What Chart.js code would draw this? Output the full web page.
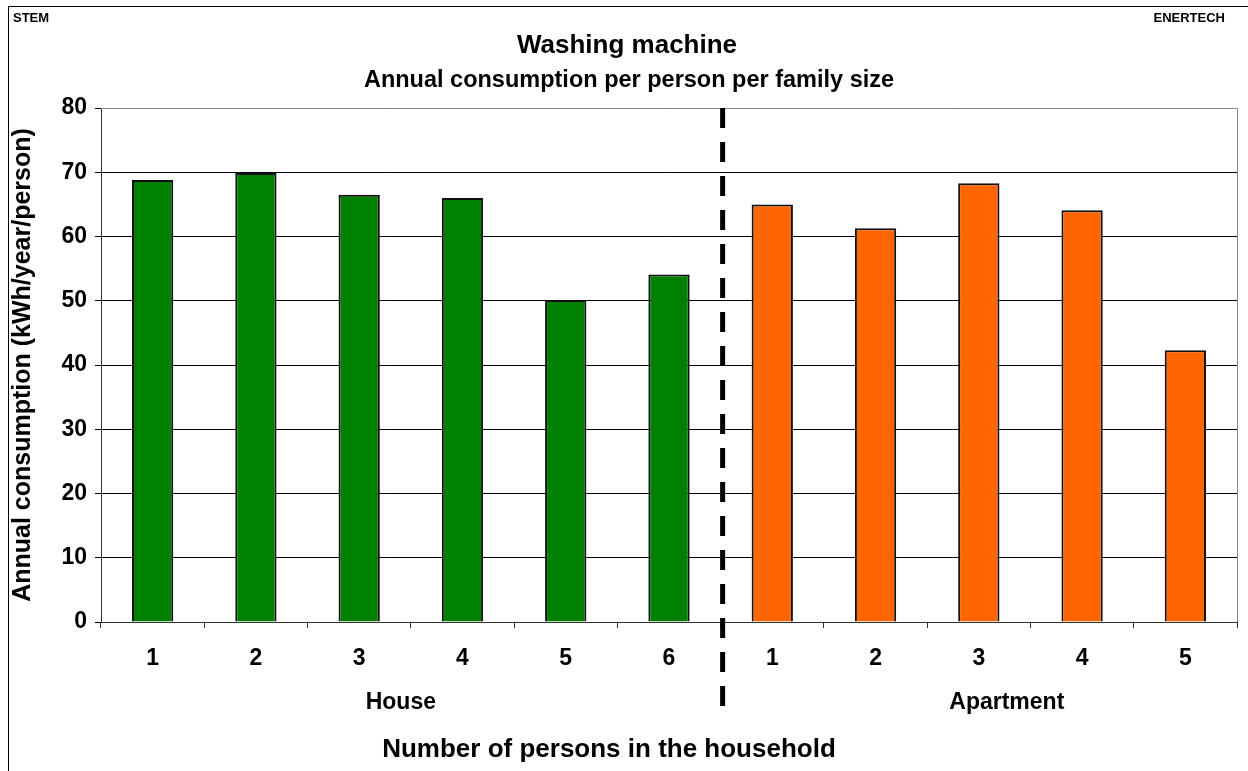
<!DOCTYPE html>
<html>
<head>
<meta charset="utf-8">
<script src="https://cdn.jsdelivr.net/npm/chart.js@4.4.1/dist/chart.umd.min.js"></script>
<style>
  html, body { margin: 0; padding: 0; background: #fff; }
  canvas { display: block; }
</style>
</head>
<body>
<canvas id="washChart" width="1248" height="771"></canvas>
<script>
// data
const houseSizes = ['1', '2', '3', '4', '5', '6'];
const houseValues = [68.8, 69.9, 66.5, 66.0, 50.1, 54.1];
const apartmentSizes = ['1', '2', '3', '4', '5'];
const apartmentValues = [65.0, 61.3, 68.3, 64.1, 42.3];
const yTicks = [0, 10, 20, 30, 40, 50, 60, 70, 80];

const labels = houseSizes.concat(apartmentSizes);
const values = houseValues.concat(apartmentValues);
const colors = houseSizes.map(() => '#008000').concat(apartmentSizes.map(() => '#FF6600'));

const FONT = '"Liberation Sans", Arial, sans-serif';

// titles, frame, separator and group labels
const extras = {
  id: 'extras',
  beforeDraw(chart) {
    const c = chart.ctx;
    c.save();
    c.fillStyle = '#fff';
    c.fillRect(0, 0, chart.width, chart.height);
    c.restore();
  },
  afterDraw(chart) {
    const c = chart.ctx;
    const area = chart.chartArea;
    const x = chart.scales.x;
    c.save();
    // outer frame
    c.strokeStyle = '#000';
    c.lineWidth = 1;
    c.strokeRect(8.5, 6.5, 1400, 1000);
    // plot border top/right
    c.strokeStyle = '#888';
    c.beginPath();
    c.moveTo(area.left, area.top + 0.5);
    c.lineTo(area.right + 0.5, area.top + 0.5);
    c.lineTo(area.right + 0.5, area.bottom);
    c.stroke();

    c.fillStyle = '#000';
    c.font = 'bold 13px ' + FONT;
    c.textBaseline = 'middle';
    c.textAlign = 'left';
    c.fillText('STEM', 13, 18);
    c.textAlign = 'right';
    c.fillText('ENERTECH', 1225, 18);

    c.textAlign = 'center';
    c.font = 'bold 26px ' + FONT;
    c.fillText('Washing machine', 627, 46);
    c.font = 'bold 23.5px ' + FONT;
    c.fillText('Annual consumption per person per family size', 629, 81);

    c.font = 'bold 26px ' + FONT;
    c.fillText('Number of persons in the household', 609, 750);

    // group labels
    c.font = 'bold 23px ' + FONT;
    const houseMid = (x.getPixelForValue(0) + x.getPixelForValue(houseSizes.length - 1)) / 2;
    const aptMid = (x.getPixelForValue(houseSizes.length) + x.getPixelForValue(labels.length - 1)) / 2;
    c.fillText('House', houseMid - 10, 703);
    c.fillText('Apartment', aptMid + 28, 703);

    // y axis title
    c.save();
    c.font = 'bold 25px ' + FONT;
    c.translate(23, (area.top + area.bottom) / 2);
    c.rotate(-Math.PI / 2);
    c.fillText('Annual consumption (kWh/year/person)', 0, 0);
    c.restore();

    // dashed separator between House and Apartment
    const sepX = (x.getPixelForValue(houseSizes.length - 1) + x.getPixelForValue(houseSizes.length)) / 2 + 2;
    c.strokeStyle = '#000';
    c.lineWidth = 5;
    c.setLineDash([20, 14]);
    c.beginPath();
    c.moveTo(sepX, area.top);
    c.lineTo(sepX, 714);
    c.stroke();
    c.restore();
  }
};

const ctx = document.getElementById('washChart').getContext('2d');
new Chart(ctx, {
  type: 'bar',
  data: {
    labels: labels,
    datasets: [{
      data: values,
      backgroundColor: colors,
      borderColor: '#111',
      borderWidth: 2,
      categoryPercentage: 1,
      barPercentage: 0.4
    }]
  },
  options: {
    responsive: false,
    animation: false,
    layout: { padding: { top: 108, right: 11, left: 0, bottom: 0 } },
    plugins: { legend: { display: false }, tooltip: { enabled: false } },
    scales: {
      x: {
        afterFit(scale) { scale.height = 149; },
        grid: { offset: true, drawOnChartArea: false, drawTicks: true, tickLength: 6, color: '#333' },
        border: { color: '#333', width: 1 },
        ticks: { color: '#000', font: { family: FONT, size: 23, weight: 'bold' }, padding: 17, maxRotation: 0 }
      },
      y: {
        min: 0,
        max: 80,
        afterFit(scale) { scale.width = 101; },
        afterBuildTicks(scale) { scale.ticks = yTicks.map(v => ({ value: v })); },
        grid: { color: '#000', lineWidth: 1, tickLength: 6 },
        border: { color: '#333', width: 1 },
        ticks: { color: '#000', font: { family: FONT, size: 23, weight: 'bold' }, padding: 8 }
      }
    }
  },
  plugins: [extras]
});
</script>
</body>
</html>
